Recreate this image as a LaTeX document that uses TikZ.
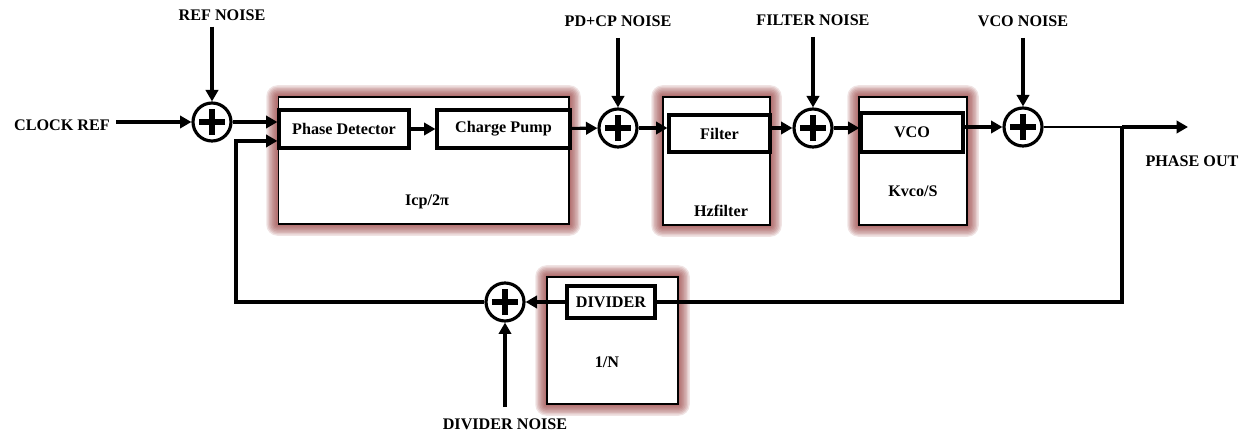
\documentclass[tikz,border=0pt]{standalone}
\usepackage{fontspec}
\setmainfont{Liberation Serif}
\usetikzlibrary{arrows.meta, positioning, calc, backgrounds}

\definecolor{glowred}{RGB}{150,60,60}

\tikzset{
  lbl/.style={font=\fontsize{9.2}{11}\selectfont\bfseries},
  blk/.style={draw, line width=1.8pt, fill=white, inner sep=0pt, font=\fontsize{9.2}{11}\selectfont\bfseries},
  outerbox/.style={draw, line width=0.6pt, fill=white, inner sep=0pt},
  sumnode/.style={circle, draw, line width=1.8pt, minimum size=0.76cm, inner sep=0pt,
    path picture={\draw[line width=3pt]
      ([xshift=-7.5pt]path picture bounding box.center) -- ([xshift=7.5pt]path picture bounding box.center)
      ([yshift=-7.5pt]path picture bounding box.center) -- ([yshift=7.5pt]path picture bounding box.center);}},
  sig/.style={line width=1.8pt, -{Triangle[length=6.5pt, width=7pt]}},
  wire/.style={line width=1.8pt},
}

\begin{document}
\begin{tikzpicture}[x=0.02cm, y=-0.02cm]
\useasboundingbox (0,0) rectangle (1256,435);

% 外側のブロック
\node[outerbox, minimum width=5.82cm, minimum height=2.54cm] (pdcpbox) at (423.5,160.5) {};
\node[outerbox, minimum width=2.14cm, minimum height=2.56cm] (filtbox) at (716.5,161) {};
\node[outerbox, minimum width=2.16cm, minimum height=2.56cm] (vcobox) at (913,161) {};
\node[outerbox, minimum width=2.62cm, minimum height=2.54cm] (divbox) at (612.5,340.5) {};

% 影
\begin{scope}[on background layer]
\fill[white] (0,0) rectangle (1256,435);
\foreach \b in {pdcpbox, filtbox, vcobox, divbox}
  \foreach \i in {0.8,1.6,...,7.2}
    \fill[glowred, opacity=0.14, rounded corners=\i pt]
      ($(\b.south west)+(-\i pt,-\i pt)$) rectangle ($(\b.north east)+(\i pt,\i pt)$);
\end{scope}

% 内側のブロック
\node[blk, minimum width=2.6cm, minimum height=0.76cm] (pd) at (344,129) {Phase Detector};
\node[blk, minimum width=2.66cm, minimum height=0.76cm] (cp) at (503.5,129) {Charge Pump};
\node[blk, minimum width=2.02cm, minimum height=0.74cm] (filt) at (719.5,133.5) {Filter};
\node[blk, minimum width=2.04cm, minimum height=0.78cm] (vco) at (912,132.5) {VCO};
\node[blk, minimum width=1.76cm, minimum height=0.64cm] (div) at (611,302) {DIVIDER};

% 伝達関数
\node[lbl] (gpd) at (427,202) {Icp/2π};
\node[lbl] (gfilt) at (721,211) {Hzfilter};
\node[lbl] (gvco) at (913,191) {Kvco/S};
\node[lbl] (gdiv) at (607,362) {1/N};

% 加算器
\foreach \name/\x/\y in {s1/212/122, s2/618/128, s3/813/128, s4/1023/127, s5/505/302}
  \node[sumnode] (\name) at (\x,\y) {};

% 雑音源
\node[lbl] (nref) at (222,15) {REF NOISE};
\node[lbl] (npd) at (618,21) {PD+CP NOISE};
\node[lbl] (nfilt) at (813,20) {FILTER NOISE};
\node[lbl] (nvco) at (1023,21) {VCO NOISE};
\node[lbl] (ndiv) at (505,424) {DIVIDER NOISE};
\draw[sig] (s1 |- nref.south) -- (s1.north);
\foreach \n/\s in {npd/s2, nfilt/s3, nvco/s4}
  \draw[sig] ([yshift=-3pt]\s |- \n.south) -- (\s.north);
\draw[sig] ([yshift=3pt]s5 |- ndiv.north) -- (s5.south);

% 信号経路
\node[lbl] (clk) at (62,125) {CLOCK REF};
\draw[sig] (clk.east |- s1.west) -- (s1.west);
\draw[sig] (s1.east) -- (s1.east -| pd.west);
\draw[sig] (pd) -- (cp);
\draw[sig] (cp) -- (s2);
\draw[sig] (s2.east) -- (s2.east -| filt.west);
\draw[sig] (filt.east |- s3.west) -- (s3.west);
\draw[sig] (s3.east) -- (s3.east -| vco.west);
\draw[sig] (vco.east |- s4.west) -- (s4.west);

% 出力と帰還
\coordinate (br) at (1122,127);
\coordinate (outp) at (1188,127);
\coordinate (fbk) at (236,302);
\node[lbl] (phout) at (1192,161) {PHASE OUT};
\draw[line width=1.2pt] (s4.east) -- (br);
\draw[sig] (br) -- (outp);
\draw[wire] (br) |- (div.east);
\draw[sig] (div.west) -- (s5.east);
\draw[sig] (s5.west) -- (fbk) |- ([yshift=-6.8pt]pd.west);

\end{tikzpicture}
\end{document}
